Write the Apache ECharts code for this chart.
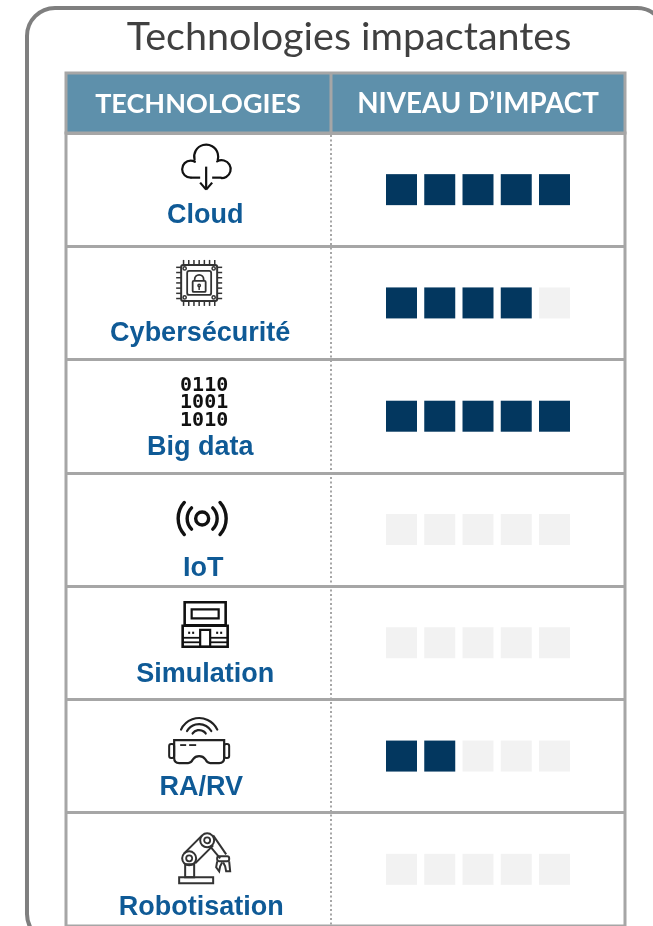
<!DOCTYPE html>
<html><head><meta charset="utf-8">
<style>html,body{margin:0;padding:0;background:#fff}#c{width:653px;height:926px}</style>
<script src="https://cdn.jsdelivr.net/npm/echarts@6/dist/echarts.min.js"></script>
</head><body><div id="c"></div>
<script>
const titleText = 'Technologies impactantes';
const headers = ['TECHNOLOGIES', 'NIVEAU D\u2019IMPACT'];
const technologies = ['Cloud', 'Cybersécurité', 'Big data', 'IoT', 'Simulation', 'RA/RV', 'Robotisation'];
const impactLevels = [5, 4, 5, 0, 0, 2, 0];
const levelSteps = [1, 2, 3, 4, 5];

// cell decoration layout: [text dx, text dy, icon dx, icon dy] from the cell anchor
const cellLayout = [
  [5, 26, 6, -23], [0, 31, -1, -20], [0, 31, 4, -12], [3, 39, 2, -11],
  [5, 32, 5, -18], [1, 31, -1, -18], [1, 38, 4, -10]
];

const INK = '#111', BLUE = '#0F5A96', GREY = '#A6A6A6';
const st = (w, c) => ({ fill: 'none', stroke: c || INK, lineWidth: w || 2.2 });
const L = (a, b, c, d, w, col) => ({ type: 'line', shape: { x1: a, y1: b, x2: c, y2: d }, style: st(w, col) });
const R = (x, y, w, h, lw, col, r) => ({ type: 'rect', shape: { x, y, width: w, height: h, r: r || 0 }, style: st(lw, col) });
const C = (cx, cy, r, lw, col) => ({ type: 'circle', shape: { cx, cy, r }, style: st(lw, col) });
const A = (cx, cy, r, s, e, lw, col) => ({ type: 'arc', shape: { cx, cy, r, startAngle: s * Math.PI / 180, endAngle: e * Math.PI / 180, clockwise: true }, style: Object.assign(st(lw, col), { lineCap: 'round' }) });
const T = (x, y, s, font, col) => ({ type: 'text', x, y, style: { text: s, font, fill: col, textAlign: 'center', textVerticalAlign: 'middle' } });

function pins() {
  const out = [], c = '#333';
  for (let k = -3; k <= 3; k++) {
    const p = k * 5.2;
    out.push(L(p, -23, p, -18, 1.5, c), L(p, 18, p, 23, 1.5, c), L(-23, p, -18, p, 1.5, c), L(18, p, 23, p, 1.5, c));
  }
  return out;
}
const icons = [
  () => [
    A(-15.5, 2.5, 8.5, 90, 300), A(0, -10, 12, 165, 375), A(15.5, 2.5, 9, 240, 450),
    L(-15.5, 11, -6, 11), L(6, 11, 15.5, 11),
    L(0, 0, 0, 22), L(-6, 16, 0, 23), L(6, 16, 0, 23)
  ],
  () => pins().concat([
    R(-18, -18, 36, 36, 2, '#333', 2), R(-12, -12, 24, 24, 1.8, '#333', 2),
    C(-14.5, -14.5, 1.6, 1.5, '#333'), C(14.5, -14.5, 1.6, 1.5, '#333'), C(-14.5, 14.5, 1.6, 1.5, '#333'), C(14.5, 14.5, 1.6, 1.5, '#333'),
    R(-6.5, -2, 13, 11, 1.8, '#333', 1), A(0, -3.5, 4.5, 180, 360, 1.8, '#333'), C(0, 2.5, 1.2, 1.5, '#333'), L(0, 3.5, 0, 7, 1.5, '#333')
  ]),
  () => [
    T(0, -18, '0110', 'bold 20px "DejaVu Sans Mono"', INK),
    T(0, -1, '1001', 'bold 20px "DejaVu Sans Mono"', INK),
    T(0, 17, '1010', 'bold 20px "DejaVu Sans Mono"', INK)
  ],
  () => [
    C(0, 0, 6.5, 3.4),
    A(0, 0, 15, 135, 225, 3.4), A(0, 0, 15, -45, 45, 3.4),
    A(0, 0, 24, 138, 222, 3.4), A(0, 0, 24, -42, 42, 3.4)
  ],
  () => [
    R(-20.5, -22.5, 41, 23, 2.6), R(-13.5, -15.5, 27, 9, 2.2),
    R(-22.5, 1, 45, 21, 2.6), L(-22.5, 13, -5, 13, 1.8), L(5, 13, 22.5, 13, 1.8), L(-22.5, 17.5, -5, 17.5, 1.8), L(5, 17.5, 22.5, 17.5, 1.8),
    R(-5, 5, 10, 17, 2.2),
    L(-17, 8, -15, 8, 2.2), L(-13, 8, -11, 8, 2.2), L(11, 8, 13, 8, 2.2), L(15, 8, 17, 8, 2.2)
  ],
  () => [
    A(0, 0, 8, 215, 325, 2.2, '#222'), A(0, 0, 14, 210, 330, 2.2, '#222'), A(0, 0, 20, 205, 335, 2.2, '#222'),
    { type: 'path', shape: { pathData: 'M-25 0 H25 Q25 0 25 4 V18 Q25 23 20 23 H11 Q8 23 6 19 Q4 16 0 16 Q-4 16 -6 19 Q-8 23 -11 23 H-20 Q-25 23 -25 18 V4 Q-25 0 -25 0 Z', x: -25, y: 2, width: 50, height: 23, layout: 'cover' }, style: st(2.2, '#222') },
    R(-30, 6, 5, 14, 2, '#222', 2), R(25, 6, 5, 14, 2, '#222', 2),
    L(-19, 7, -13, 7, 1.8, '#222'), L(-10, 7, -3, 7, 1.8, '#222')
  ],
  () => [
    R(-25, 18, 34, 6, 2, '#333'), R(-19, 5, 9, 13, 2, '#333'),
    C(-15, -1, 7, 2, '#333'), C(-15, -1, 3, 1.8, '#333'),
    C(3, -19, 7, 2, '#333'), C(3, -19, 3, 1.8, '#333'),
    L(-20, -6, -2, -24, 2, '#333'), L(-9, 4, 9, -14, 2, '#333'),
    L(9, -24, 22, -5, 2, '#333'), L(6, -13, 16, -1, 2, '#333'),
    R(13, -3, 12, 5, 2, '#333', 2),
    { type: 'polyline', shape: { points: [[13, 2], [12, 8], [15, 12], [16, 7], [18, 3]] }, style: st(2, '#333') },
    { type: 'polyline', shape: { points: [[25, 2], [26, 12], [22, 12], [21, 7], [19, 3]] }, style: st(2, '#333') }
  ]
];

const filled = [], empty = [];
technologies.forEach((t, i) => levelSteps.forEach(k => (k <= impactLevels[i] ? filled : empty).push([k, i])));

const hiddenAxis = { axisLine: { show: false }, axisTick: { show: false }, axisLabel: { show: false } };
const chart = echarts.init(document.getElementById('c'), null, { renderer: 'canvas' });
chart.setOption({
  animation: false,
  backgroundColor: '#fff',
  title: {
    text: titleText, left: 349, top: 37, textAlign: 'center', textVerticalAlign: 'middle', padding: 0,
    textStyle: { fontFamily: 'Lato', fontWeight: 'normal', fontSize: 39.5, color: '#404040' }
  },
  grid: [
    { left: 66, top: 133, width: 559, height: 793 },
    { left: 363.25, top: 133, width: 229.5, height: 793 }
  ],
  xAxis: [
    Object.assign({ gridIndex: 0, type: 'value', min: 0, max: 1, splitLine: { show: false } }, hiddenAxis),
    Object.assign({ gridIndex: 1, type: 'value', min: 0, max: 6, splitLine: { show: false } }, hiddenAxis)
  ],
  yAxis: [
    Object.assign({ gridIndex: 0, type: 'category', inverse: true, data: technologies, splitLine: { show: true, lineStyle: { color: GREY, width: 3 } } }, hiddenAxis),
    Object.assign({ gridIndex: 1, type: 'category', inverse: true, data: technologies, splitLine: { show: false } }, hiddenAxis)
  ],
  graphic: { elements: [
    { type: 'rect', z: 0, silent: true, shape: { x: 27, y: 8, width: 638, height: 934, r: 28 }, style: { fill: 'none', stroke: '#7F7F7F', lineWidth: 4 } },
    { type: 'rect', z: 3, silent: true, shape: { x: 66, y: 133, width: 559, height: 793 }, style: { fill: 'none', stroke: GREY, lineWidth: 3 } },
    { type: 'rect', z: 3, silent: true, shape: { x: 66, y: 73, width: 559, height: 60 }, style: { fill: '#5E90AB', stroke: GREY, lineWidth: 3 } },
    { type: 'line', z: 4, silent: true, shape: { x1: 331, y1: 73, x2: 331, y2: 133 }, style: { stroke: GREY, lineWidth: 3 } },
    { type: 'line', z: 4, silent: true, shape: { x1: 331, y1: 135, x2: 331, y2: 926 }, style: { stroke: GREY, lineWidth: 2, lineDash: [2, 2.5] } },
    { type: 'text', z: 5, silent: true, x: 198, y: 104, style: { text: headers[0], font: 'bold 27px Lato', fill: '#fff', textAlign: 'center', textVerticalAlign: 'middle' } },
    { type: 'text', z: 5, silent: true, x: 478, y: 104, style: { text: headers[1], font: 'bold 27.7px Lato', fill: '#fff', textAlign: 'center', textVerticalAlign: 'middle' } }
  ] },
  series: [
    { type: 'scatter', name: 'Vide', xAxisIndex: 1, yAxisIndex: 1, symbol: 'rect', symbolSize: 31, itemStyle: { color: '#F2F2F2', opacity: 1 }, data: empty, silent: true, z: 5 },
    { type: 'scatter', name: 'Impact', xAxisIndex: 1, yAxisIndex: 1, symbol: 'rect', symbolSize: 31, itemStyle: { color: '#03375F', opacity: 1 }, data: filled, silent: true, z: 6 },
    {
      type: 'custom', xAxisIndex: 0, yAxisIndex: 0, silent: true, z: 6, clip: false,
      data: technologies.map((t, i) => [0.24, i, t]),
      encode: { x: 0, y: 1 },
      renderItem(params, api) {
        const i = params.dataIndex;
        const p = api.coord([api.value(0), api.value(1)]);
        const ly = cellLayout[i];
        return { type: 'group', children: [
          { type: 'group', x: p[0] + ly[2], y: p[1] + ly[3], children: icons[i]() },
          T(p[0] + ly[0], p[1] + ly[1], technologies[i], 'bold 27px "Liberation Sans"', BLUE)
        ] };
      }
    }
  ]
});
</script></body></html>
